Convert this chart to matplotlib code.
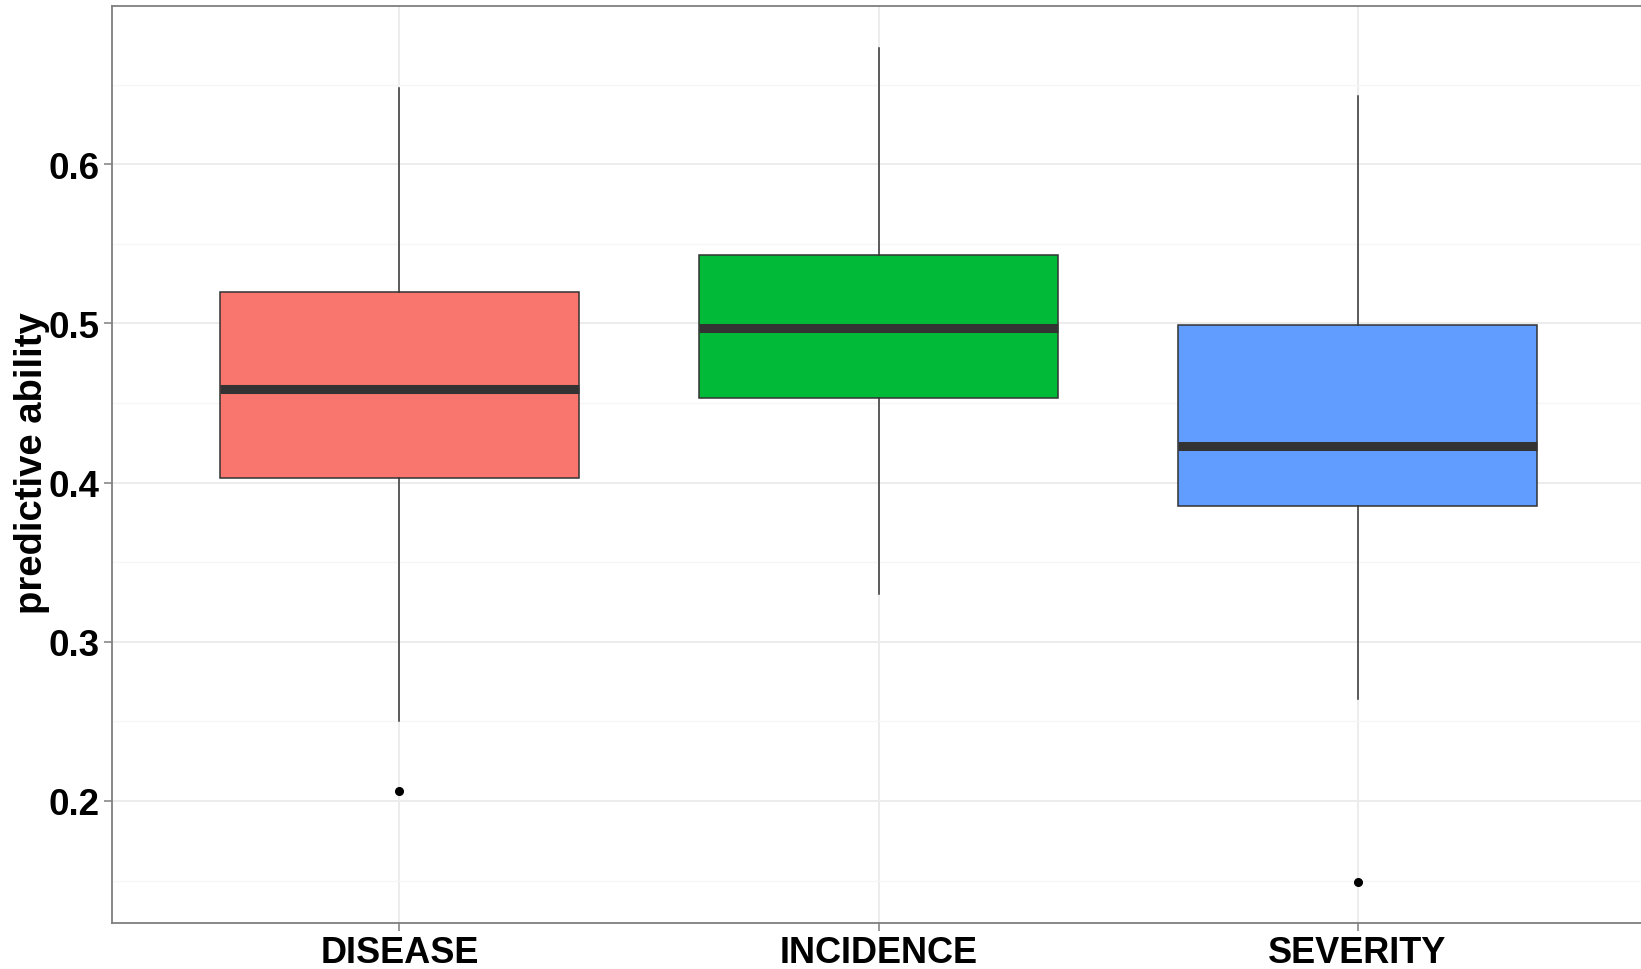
import matplotlib
matplotlib.use("Agg")
import matplotlib.pyplot as plt
from matplotlib.ticker import MultipleLocator

plt.rcParams['font.family'] = ['Liberation Sans', 'DejaVu Sans']

# Summary statistics of predictive ability per trait
categories = ["DISEASE", "INCIDENCE", "SEVERITY"]
whisker_low = [0.250, 0.330, 0.264]
q1 = [0.403, 0.453, 0.385]
median = [0.459, 0.497, 0.423]
q3 = [0.520, 0.543, 0.499]
whisker_high = [0.648, 0.673, 0.643]
outliers = [[0.206], [], [0.149]]
colors = ["#F8766D", "#00BA38", "#619CFF"]

DPI = 100
fig = plt.figure(figsize=(16.41, 9.70), dpi=DPI)
ax = fig.add_axes([112 / 1641, 46 / 970, 1533 / 1641, 917 / 970])

stats = []
for i, name in enumerate(categories):
    stats.append(dict(label=name, whislo=whisker_low[i], q1=q1[i], med=median[i],
                      q3=q3[i], whishi=whisker_high[i], fliers=outliers[i]))

positions = list(range(len(categories)))
bp = ax.bxp(stats, positions=positions, widths=0.75, patch_artist=True,
            showcaps=False,
            boxprops=dict(edgecolor="#333333", linewidth=1.1),
            whiskerprops=dict(color="#333333", linewidth=1.1),
            medianprops=dict(color="#333333", linewidth=6.5, solid_capstyle="butt"),
            flierprops=dict(marker="o", markersize=5.5, markerfacecolor="black",
                            markeredgecolor="black"),
            zorder=3)
for patch, c in zip(bp["boxes"], colors):
    patch.set_facecolor(c)

ax.set_xlim(-0.6, len(categories) - 1 + 0.6)
ax.set_ylim(0.1233, 0.6994)

ax.yaxis.set_major_locator(MultipleLocator(0.1))
ax.yaxis.set_minor_locator(MultipleLocator(0.05))
ax.set_xticks(positions)
ax.set_xticklabels(categories)

ax.grid(which="major", color="#ebebeb", linewidth=1.3, zorder=0)
ax.grid(which="minor", axis="y", color="#f6f6f6", linewidth=1.0, zorder=0)
ax.set_axisbelow(True)

for side in ["left", "bottom", "top"]:
    ax.spines[side].set_color("#7f7f7f")
    ax.spines[side].set_linewidth(1.3)
ax.spines["right"].set_visible(False)

ax.tick_params(axis="both", which="major", length=6, width=1.1, color="#7f7f7f",
               labelcolor="black")
ax.tick_params(axis="y", which="minor", length=0)
ax.tick_params(axis="y", labelsize=26.5, pad=3)
ax.tick_params(axis="x", labelsize=26, pad=2.5)
for lbl in ax.get_xticklabels() + ax.get_yticklabels():
    lbl.set_fontweight("bold")

fig.text(32 / 1641, 1 - 463 / 970, "predictive ability", rotation=90,
         ha="center", va="center", fontsize=27.5, fontweight="bold", color="black")

fig.savefig("out.png", dpi=DPI, facecolor="white")
